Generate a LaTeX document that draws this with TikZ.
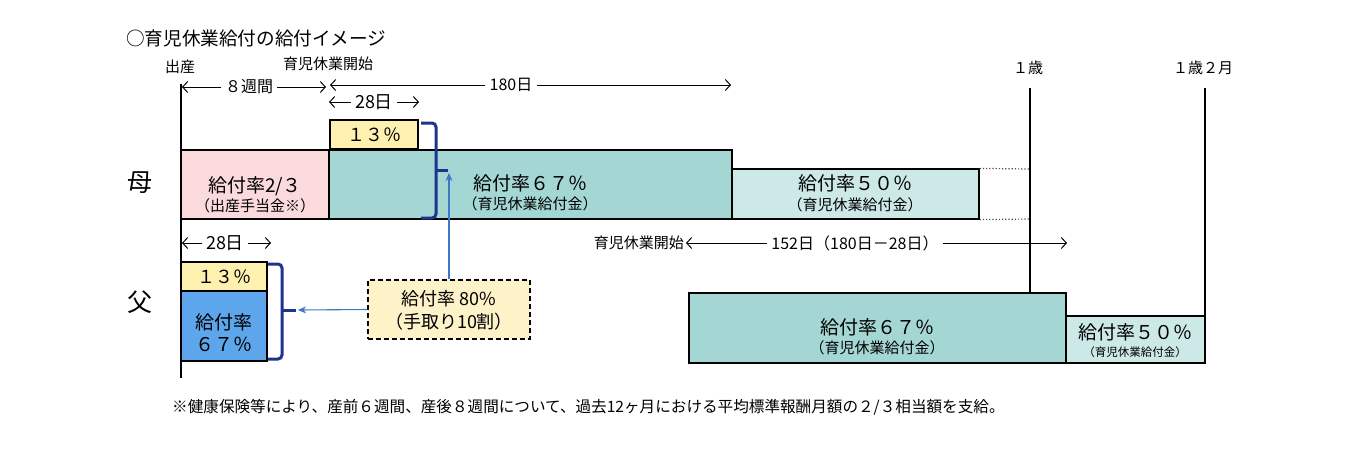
\documentclass[tikz,border=0pt]{standalone}
\usepackage{fontspec}
\setmainfont{Noto Sans CJK JP}
\usetikzlibrary{arrows.meta}
\definecolor{pinkf}{RGB}{250,218,221}
\definecolor{tealf}{RGB}{164,214,212}
\definecolor{ltealf}{RGB}{204,232,231}
\definecolor{yelf}{RGB}{254,241,176}
\definecolor{dyelf}{RGB}{253,242,200}
\definecolor{bluef}{RGB}{94,166,236}
\definecolor{navyc}{RGB}{28,52,140}
\definecolor{ablue}{RGB}{60,120,195}
\begin{document}
\begin{tikzpicture}[x=1pt,y=-1pt,
  boxc/.style={draw=black,line width=1.2pt,inner sep=0pt},
  pctbox/.style={draw=black,line width=2.6pt,fill=yelf,inner sep=0pt,font=\fontsize{18}{20}\selectfont},
  maintxt/.style={inner sep=0pt,font=\fontsize{19}{21}\selectfont},
  subtxt/.style={inner sep=0pt,font=\fontsize{15}{17}\selectfont},
  lbl/.style={inner sep=0pt,font=\fontsize{15}{17}\selectfont},
  dimtxt/.style={inner sep=4pt,font=\fontsize{16}{18}\selectfont},
  dimarrow/.style={-{Straight Barb[length=5pt,width=11pt]},line width=1pt},
  brack/.style={draw=navyc,line width=3pt,rounded corners=4pt},
  bluearrow/.style={draw=ablue,line width=1.1pt,-{Stealth[length=8pt,width=7pt]}},
  vline/.style={line width=1.6pt}
]
\useasboundingbox (0,0) rectangle (1360,448);

% title and labels
\node[anchor=west,inner sep=0pt,font=\fontsize{18.6}{21}\selectfont] (title) at (126,38) {○育児休業給付の給付イメージ};
\node[lbl] (birth) at (180,67) {出産};
\node[lbl] (start1) at (328,64) {育児休業開始};
\node[lbl] (age1) at (1028,68) {１歳};
\node[lbl] (age12) at (1203,68) {１歳２月};
\node[inner sep=0pt,font=\fontsize{25}{27}\selectfont] (mother) at (140,183) {母};
\node[inner sep=0pt,font=\fontsize{25}{27}\selectfont] (father) at (140,302) {父};

% vertical time lines
\coordinate (axT) at (181,84);
\coordinate (axB) at (181,378);
\draw[line width=2pt] (axT) -- (axB);
\coordinate (a1T) at (1030,88);
\coordinate (a1B) at (1030,293);
\draw[vline] (a1T) -- (a1B);
\coordinate (a2T) at (1205,88);
\coordinate (a2B) at (1205,316);
\draw[vline] (a2T) -- (a2B);

% top dimension arrows
\node[dimtxt] (w8) at (249,87) {８週間};
\coordinate (w8L) at (182,87);
\coordinate (w8R) at (326,87);
\draw[dimarrow] (w8.west) -- (w8L);
\draw[dimarrow] (w8.east) -- (w8R);

\node[dimtxt] (d180) at (511,85) {180日};
\coordinate (d180L) at (330,85);
\coordinate (d180R) at (731,85);
\draw[dimarrow] (d180.west) -- (d180L);
\draw[dimarrow] (d180.east) -- (d180R);

\node[dimtxt,font=\fontsize{18}{20}\selectfont] (d28m) at (374,102) {28日};
\coordinate (d28mL) at (329,102);
\coordinate (d28mR) at (419,102);
\draw[dimarrow] (d28m.west) -- (d28mL);
\draw[dimarrow] (d28m.east) -- (d28mR);

% mother row
\node[pctbox,minimum width=88pt,minimum height=29pt] (m13) at (374,134.5) {１３％};
\node[boxc,fill=pinkf,minimum width=148pt,minimum height=69pt] (mpink) at (255,184.5) {};
\node[maintxt] (mpinkA) at (255,186) {給付率2/３};
\node[subtxt] (mpinkB) at (255,206) {（出産手当金※）};
\node[boxc,fill=tealf,minimum width=403pt,minimum height=69pt] (mteal) at (530.5,184.5) {};
\node[maintxt] (mtealA) at (530,183) {給付率６７％};
\node[subtxt] (mtealB) at (530,204) {（育児休業給付金）};
\node[boxc,fill=ltealf,minimum width=247pt,minimum height=50pt] (mlt) at (855.5,194) {};
\node[maintxt] (mltA) at (855,183) {給付率５０％};
\node[subtxt] (mltB) at (855,205) {（育児休業給付金）};
\coordinate (dotT) at (1030,169);
\coordinate (dotB) at (1030,219);
\draw[dotted,line width=1.2pt,black!70] (mlt.north east) -- (dotT);
\draw[dotted,line width=1.2pt,black!70] (mlt.south east) -- (dotB);

% mother bracket
\draw[brack] (421,123) -- (436,123) -- (436,218) -- (421,218);
\draw[draw=navyc,line width=3pt] (436,170) -- (448,170);

% father row dimension arrows
\node[dimtxt,font=\fontsize{18}{20}\selectfont] (d28f) at (225,243) {28日};
\coordinate (d28fL) at (182,243);
\coordinate (d28fR) at (271,243);
\draw[dimarrow] (d28f.west) -- (d28fL);
\draw[dimarrow] (d28f.east) -- (d28fR);

\node[lbl,anchor=east,inner sep=2pt] (start2) at (686,243) {育児休業開始};
\node[dimtxt] (d152) at (855,243) {152日（180日－28日）};
\coordinate (d152R) at (1067,243);
\draw[dimarrow] (d152.west) -- (start2.east);
\draw[dimarrow] (d152.east) -- (d152R);

% father boxes
\node[pctbox,minimum width=86pt,minimum height=29pt] (f13) at (224,276.5) {１３％};
\node[boxc,fill=bluef,minimum width=86pt,minimum height=70pt] (fblue) at (224,326) {};
\node[maintxt] (fblueA) at (224,322) {給付率};
\node[maintxt] (fblueB) at (224,344) {６７％};
\node[boxc,fill=tealf,minimum width=377pt,minimum height=70pt] (fteal) at (877.5,328) {};
\node[maintxt] (ftealA) at (877,327) {給付率６７％};
\node[subtxt] (ftealB) at (877,348) {（育児休業給付金）};
\node[boxc,fill=ltealf,minimum width=139pt,minimum height=47pt] (flt) at (1135.5,339.5) {};
\node[maintxt] (fltA) at (1135,332) {給付率５０％};
\node[inner sep=0pt,font=\fontsize{11.5}{13}\selectfont] (fltB) at (1135,352) {（育児休業給付金）};

% father bracket
\draw[brack] (268,264) -- (282,264) -- (282,359) -- (268,359);
\draw[draw=navyc,line width=3pt] (282,310) -- (296,310);

% 80% box and arrows
\node[draw=black,dash pattern=on 5pt off 3pt,line width=1.2pt,fill=dyelf,minimum width=162pt,minimum height=59pt,inner sep=0pt] (rate80) at (449,309.5) {};
\node[maintxt,font=\fontsize{18}{20}\selectfont] (rate80A) at (449,299) {給付率 80\%};
\node[maintxt,font=\fontsize{18}{20}\selectfont] (rate80B) at (449,322) {（手取り10割）};
\coordinate (mTick) at (449,173);
\coordinate (fTick) at (298,310);
\draw[bluearrow] (rate80.north) -- (mTick);
\draw[bluearrow] (rate80.west) -- (fTick);

% footnote
\node[anchor=west,inner sep=0pt,font=\fontsize{15.6}{17}\selectfont] (note) at (172,407) {※健康保険等により、産前６週間、産後８週間について、過去12ヶ月における平均標準報酬月額の２/３相当額を支給。};
\end{tikzpicture}
\end{document}
